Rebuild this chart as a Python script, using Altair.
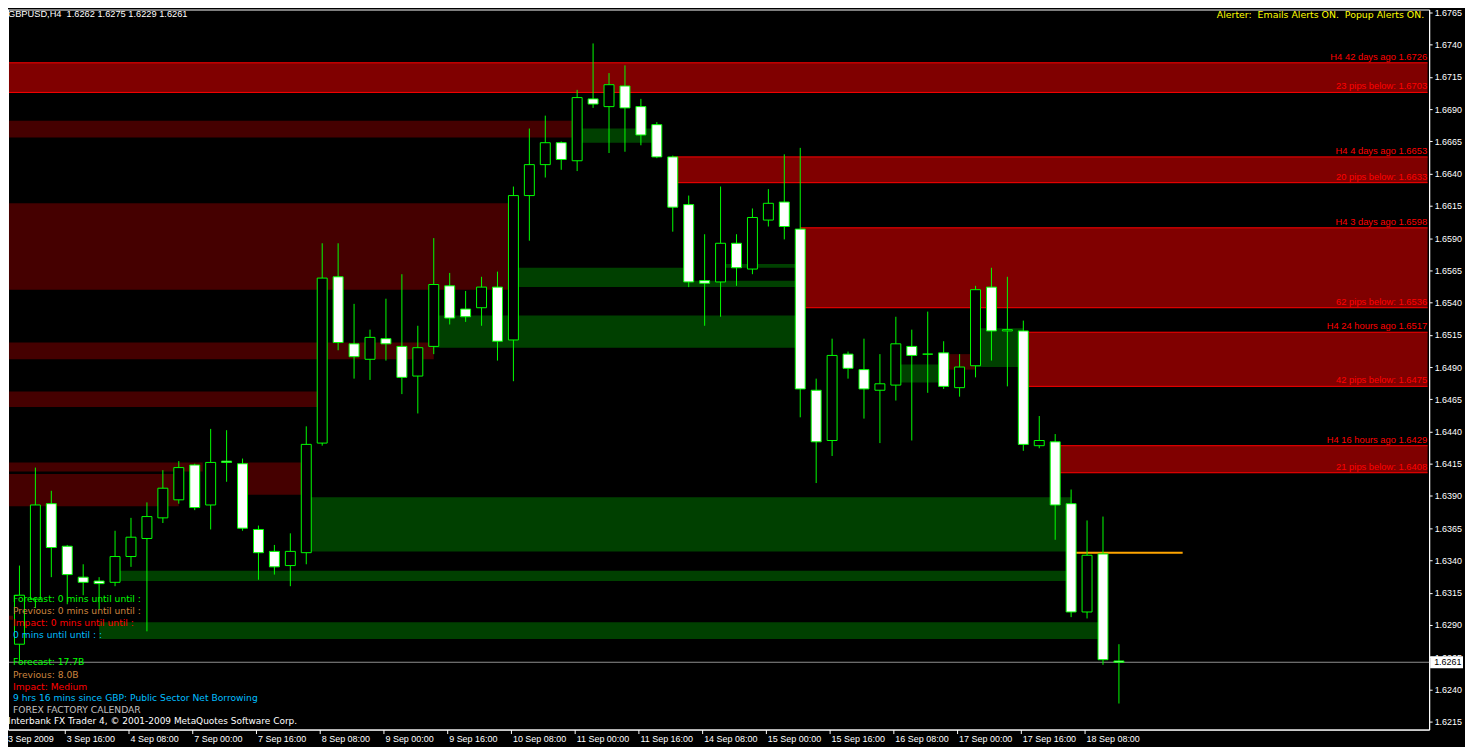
import altair as alt
import pandas as pd

# ---------------- data ----------------
bar_index = list(range(71))
opens = [1.6279, 1.6275, 1.6310, 1.6384, 1.6351, 1.6327, 1.6324, 1.6323, 1.6343, 1.6357,
         1.6373, 1.6387, 1.6414, 1.6383, 1.6417, 1.6415, 1.6364, 1.6347, 1.6336, 1.6346,
         1.6431, 1.6560, 1.6508, 1.6496, 1.6512, 1.6506, 1.6483, 1.6506, 1.6553, 1.6535,
         1.6536, 1.6552, 1.6511, 1.6623, 1.6647, 1.6664, 1.6650, 1.6698, 1.6692, 1.6708,
         1.6692, 1.6678, 1.6653, 1.6616, 1.6557, 1.6556, 1.6586, 1.6566, 1.6604, 1.6618,
         1.6597, 1.6472, 1.6433, 1.6500, 1.6488, 1.6472, 1.6476, 1.6506, 1.6500, 1.6501,
         1.6474, 1.6491, 1.6552, 1.6518, 1.6518, 1.6429, 1.6432, 1.6384, 1.6300, 1.6345,
         1.6262]
highs = [1.6285, 1.6336, 1.6412, 1.6394, 1.6352, 1.6337, 1.6327, 1.6363, 1.6373, 1.6385,
         1.6410, 1.6417, 1.6415, 1.6442, 1.6441, 1.6419, 1.6367, 1.6352, 1.6361, 1.6444,
         1.6586, 1.6586, 1.6539, 1.6519, 1.6543, 1.6562, 1.6522, 1.6590, 1.6563, 1.6549,
         1.6560, 1.6564, 1.6630, 1.6675, 1.6685, 1.6665, 1.6705, 1.6741, 1.6718, 1.6724,
         1.6698, 1.6680, 1.6654, 1.6623, 1.6593, 1.6630, 1.6593, 1.6613, 1.6628, 1.6655,
         1.6660, 1.6481, 1.6512, 1.6502, 1.6512, 1.6500, 1.6529, 1.6519, 1.6533, 1.6510,
         1.6500, 1.6553, 1.6567, 1.6560, 1.6526, 1.6452, 1.6438, 1.6395, 1.6371, 1.6374,
         1.6275]
lows = [1.6234, 1.6262, 1.6303, 1.6327, 1.6306, 1.6313, 1.6302, 1.6320, 1.6335, 1.6285,
        1.6369, 1.6384, 1.6379, 1.6364, 1.6401, 1.6363, 1.6325, 1.6329, 1.6320, 1.6337,
        1.6429, 1.6503, 1.6481, 1.6480, 1.6495, 1.6469, 1.6454, 1.6500, 1.6523, 1.6525,
        1.6522, 1.6495, 1.6479, 1.6588, 1.6637, 1.6643, 1.6642, 1.6691, 1.6656, 1.6657,
        1.6662, 1.6652, 1.6595, 1.6552, 1.6522, 1.6529, 1.6553, 1.6562, 1.6599, 1.6589,
        1.6451, 1.6400, 1.6421, 1.6481, 1.6450, 1.6431, 1.6464, 1.6433, 1.6470, 1.6473,
        1.6467, 1.6482, 1.6495, 1.6475, 1.6425, 1.6427, 1.6356, 1.6296, 1.6295, 1.6259,
        1.6229]
closes = [1.6274, 1.6313, 1.6383, 1.6350, 1.6329, 1.6323, 1.6322, 1.6343, 1.6358, 1.6374,
          1.6396, 1.6412, 1.6381, 1.6416, 1.6416, 1.6365, 1.6346, 1.6335, 1.6347, 1.6430,
          1.6559, 1.6509, 1.6498, 1.6513, 1.6508, 1.6482, 1.6505, 1.6554, 1.6528, 1.6529,
          1.6552, 1.6510, 1.6623, 1.6647, 1.6664, 1.6651, 1.6699, 1.6694, 1.6709, 1.6691,
          1.6670, 1.6653, 1.6614, 1.6556, 1.6555, 1.6586, 1.6567, 1.6606, 1.6617, 1.6599,
          1.6473, 1.6432, 1.6499, 1.6489, 1.6473, 1.6477, 1.6508, 1.6499, 1.6500, 1.6475,
          1.6490, 1.6550, 1.6518, 1.6519, 1.6430, 1.6433, 1.6383, 1.6300, 1.6344, 1.6263,
          1.6261]

time_tick_index = [4, 8, 12, 16, 20, 24, 28, 32, 36, 40, 44, 48, 52, 56, 60, 64, 68]
time_labels = ["3 Sep 2009", "3 Sep 16:00", "4 Sep 08:00", "7 Sep 00:00", "7 Sep 16:00",
               "8 Sep 08:00", "9 Sep 00:00", "9 Sep 16:00", "10 Sep 08:00", "11 Sep 00:00",
               "11 Sep 16:00", "14 Sep 08:00", "15 Sep 00:00", "15 Sep 16:00", "16 Sep 08:00",
               "17 Sep 00:00", "17 Sep 16:00", "18 Sep 08:00"]
price_ticks = [round(1.6215 + 0.0025 * k, 4) for k in range(23)]

# active supply zones (bright red)
red_start = [-1, 42, 50, 64, 66]
red_top = [1.6726, 1.6653, 1.6598, 1.6517, 1.6429]
red_bottom = [1.6703, 1.6633, 1.6536, 1.6475, 1.6408]
red_top_label = ["H4 42 days ago 1.6726", "H4 4 days ago 1.6653", "H4 3 days ago 1.6598",
                 "H4 24 hours ago 1.6517", "H4 16 hours ago 1.6429"]
red_bottom_label = ["23 pips below: 1.6703", "20 pips below: 1.6633", "62 pips below: 1.6536",
                    "42 pips below: 1.6475", "21 pips below: 1.6408"]

# old / broken supply zones (dark red)
old_start = [-1, -1, -1, -1, -1, -1, 15, -1, 59.3]
old_end = [36, 32, 27, 20, 12.5, 11, 19, 0.6, 61]
old_top = [1.6681, 1.6617, 1.6509, 1.6471, 1.6416, 1.6407, 1.6416, 1.6297, 1.6500]
old_bottom = [1.6668, 1.6550, 1.6496, 1.6459, 1.6409, 1.6382, 1.6391, 1.6294, 1.6488]

# demand zones (dark green)
grn_start = [36, 32, 43, 45.2, 27, 56, 61, 19, 7, 6]
grn_end = [40.7, 43, 50, 50, 50, 58.7, 64, 67, 67, 69]
grn_top = [1.6675, 1.6567, 1.6557, 1.6570, 1.6530, 1.6492, 1.6520, 1.6389, 1.6332, 1.6292]
grn_bottom = [1.6664, 1.6552, 1.6552, 1.6567, 1.6505, 1.6478, 1.6490, 1.6347, 1.6324, 1.6279]

bid_price = 1.6261
orange_price = 1.6346
orange_from = 67
orange_to = 74

# ---------------- layout ----------------
W, H = 1427, 723
X_DOM = [0.28125, 0.28125 + W / 16.0]
Y_DOM = [1.620880, 1.676732]
ZONE_END = X_DOM[1] - 0.1
FONT = "Liberation Sans"
WIDE = "DejaVu Sans"
LIME = "#00ff00"

xs = alt.Scale(domain=X_DOM, nice=False, zero=False)
ys = alt.Scale(domain=Y_DOM, nice=False, zero=False)

label_array = "[" + ",".join("'" + t + "'" for t in time_labels) + "]"
x_axis = alt.Axis(values=time_tick_index, labelExpr=label_array + "[round(datum.value / 4)]",
                  title=None, grid=False, domainColor="white", tickColor="white",
                  labelColor="white", tickSize=4, labelAlign="left", labelBaseline="top",
                  labelPadding=1, tickOffset=-2.5, labelOffset=1.5, labelFont=FONT,
                  labelFontSize=9, labelOverlap=False, labelFlush=False)
y_axis = alt.Axis(orient="right", values=price_ticks, format=".4f", title=None, grid=False,
                  domainColor="white", tickColor="white", labelColor="white", tickSize=3,
                  labelPadding=2, labelFont=FONT, labelFontSize=9, labelOverlap=False,
                  labelFlush=False)


def X(field):
    return alt.X(field, type="quantitative", scale=xs, axis=x_axis)


def Y(field):
    return alt.Y(field, type="quantitative", scale=ys, axis=y_axis)


candles = pd.DataFrame({"i": bar_index, "o": opens, "h": highs, "l": lows, "c": closes})
red = pd.DataFrame({"s": red_start, "e": [ZONE_END] * len(red_start), "t": red_top,
                    "b": red_bottom, "lt": red_top_label, "lb": red_bottom_label})
old = pd.DataFrame({"s": old_start, "e": old_end, "t": old_top, "b": old_bottom})
grn = pd.DataFrame({"s": grn_start, "e": grn_end, "t": grn_top, "b": grn_bottom})

old_layer = alt.Chart(old).mark_rect(color="#450000", clip=True).encode(
    x=X("s"), x2="e", y=Y("t"), y2="b")
grn_layer = alt.Chart(grn).mark_rect(color="#004000", clip=True).encode(
    x=X("s"), x2="e", y=Y("t"), y2="b")
red_layer = alt.Chart(red).mark_rect(color="#800000", clip=True).encode(
    x=X("s"), x2="e", y=Y("t"), y2="b")
red_top_line = alt.Chart(red).mark_rule(color="#ff0000", clip=True).encode(
    x=X("s"), x2="e", y=Y("t"))
red_bot_line = alt.Chart(red).mark_rule(color="#ff0000", clip=True).encode(
    x=X("s"), x2="e", y=Y("b"))
red_top_text = alt.Chart(red).mark_text(align="right", baseline="alphabetic", dy=-3,
                                        color="#ff0000", font=FONT, fontSize=9.4).encode(
    x=alt.value(W - 2), y=Y("t"), text="lt:N")
red_bot_text = alt.Chart(red).mark_text(align="right", baseline="alphabetic", dy=-3,
                                        color="#ff0000", font=FONT, fontSize=9.4).encode(
    x=alt.value(W - 2), y=Y("b"), text="lb:N")

bid = pd.DataFrame({"p": [bid_price], "lbl": [f"{bid_price:.4f}"]})
bid_line = alt.Chart(bid).mark_rule(color="#8f8f8f").encode(y=Y("p"))

orange = pd.DataFrame({"s": [orange_from], "e": [orange_to], "p": [orange_price]})
orange_line = alt.Chart(orange).mark_rule(color="#ffa500", strokeWidth=2, clip=True).encode(
    x=X("s"), x2="e", y=Y("p"))

wicks = alt.Chart(candles).mark_rule(color=LIME, strokeWidth=1, clip=True).encode(
    x=X("i"), y=Y("l"), y2="h")
bodies = alt.Chart(candles).transform_calculate(
    x1="datum.i - 0.3125", x2="datum.i + 0.3125"
).mark_rect(stroke=LIME, strokeWidth=1, clip=True).encode(
    x=X("x1"), x2="x2:Q", y=Y("o"), y2="c",
    fill=alt.condition("datum.c < datum.o", alt.value("white"), alt.value("black")))

frame_left = alt.Chart(pd.DataFrame({"k": [0]})).mark_rule(color="white").encode(
    x=alt.value(0.5), y=alt.value(0), y2=alt.value(H))

price_box = alt.Chart(bid).transform_calculate(
    p1="datum.p + 0.00047", p2="datum.p - 0.00047"
).mark_rect(color="white").encode(
    x=alt.value(W + 1), x2=alt.value(W + 34), y=Y("p1"), y2="p2:Q")
price_box_text = alt.Chart(bid).mark_text(align="left", baseline="middle", color="black",
                                          font=FONT, fontSize=9).encode(
    x=alt.value(W + 5), y=Y("p"), text="lbl:N")


def note(text, x, y, color, align="left", baseline="middle", font=WIDE, size=9.2):
    return alt.Chart(pd.DataFrame({"t": [text]})).mark_text(
        align=align, baseline=baseline, color=color, font=font, fontSize=size
    ).encode(text="t:N", x=alt.value(x), y=alt.value(y))


NB = "\u00a0"
notes = [
    note("GBPUSD,H4" + NB + " 1.6262 1.6275 1.6229 1.6261", 0, 1, "white", baseline="top",
         font=FONT, size=9.3),
    note("Alerter:" + NB + " Emails Alerts ON." + NB + " Popup Alerts ON.", W - 5, 6, "#ffff00",
         align="right", size=9.4),
    note("Forecast: 0 mins until until :", 5, 592, LIME),
    note("Previous: 0 mins until until :", 5, 604, "#cd853f"),
    note("Impact: 0 mins until until :", 5, 616, "#ff0000"),
    note("0 mins until until : :", 5, 628, "#00bfff"),
    note("Forecast: 17.7B", 5, 655, LIME),
    note("Previous: 8.0B", 5, 668, "#cd853f"),
    note("Impact: Medium", 5, 680, "#ff0000"),
    note("9 hrs 16 mins since GBP: Public Sector Net Borrowing", 5, 691, "#00bfff"),
    note("FOREX FACTORY CALENDAR", 5, 703, "#c0c0c0"),
    note("Interbank FX Trader 4, \u00a9 2001-2009 MetaQuotes Software Corp.", 0, 714, "white",
         size=9),
    note(time_labels[0], 0, H + 5, "white", baseline="top", font=FONT, size=9),
]

chart = alt.layer(
    old_layer, grn_layer, red_layer, red_top_line, red_bot_line, red_top_text, red_bot_text,
    bid_line, orange_line, wicks, bodies, frame_left, price_box, price_box_text, *notes
).properties(
    width=W, height=H,
    autosize=alt.AutoSizeParams(type="none"),
    padding={"left": 0, "top": 0, "right": 36, "bottom": 16},
).configure(background="black").configure_view(stroke="white", strokeWidth=1, fill="black")

chart.save("out.html", embed_options={"renderer": "svg", "actions": False})
